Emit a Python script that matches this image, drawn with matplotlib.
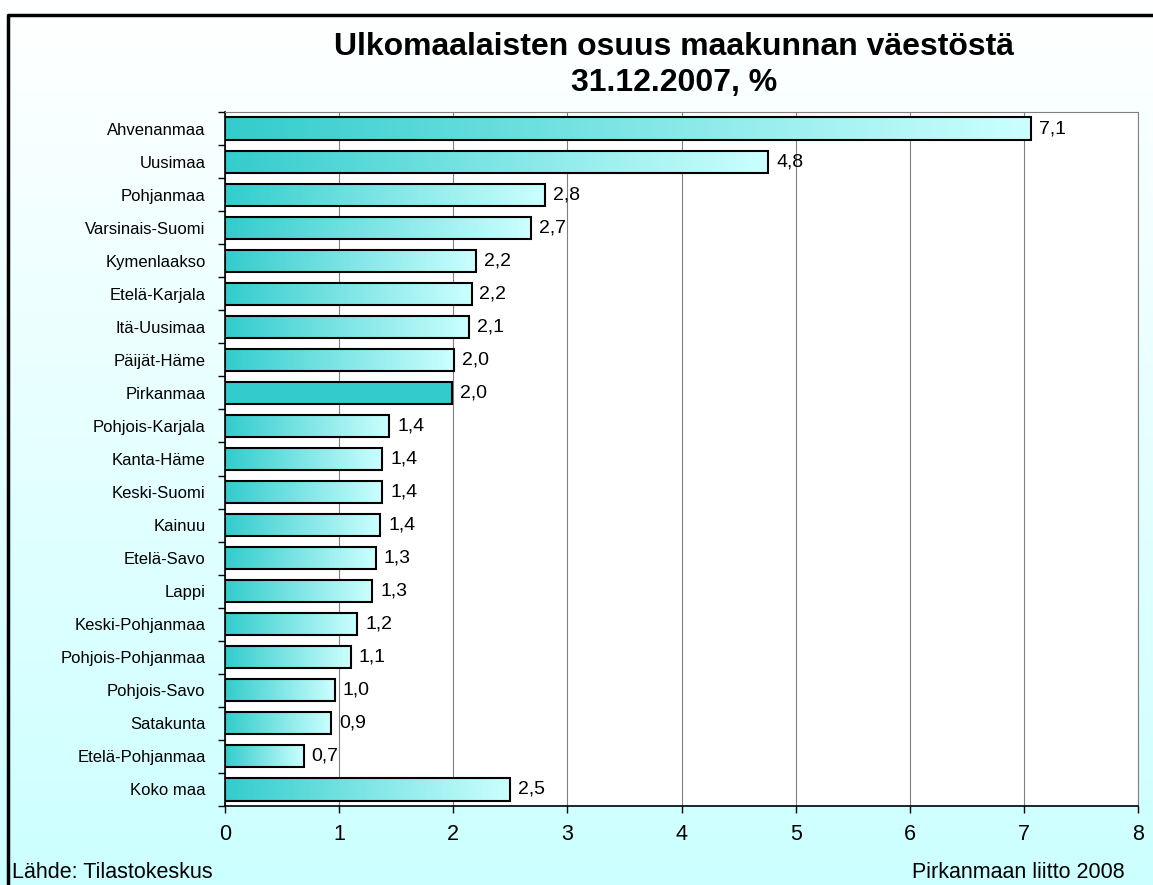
import numpy as np
import matplotlib
matplotlib.use('Agg')
import matplotlib.pyplot as plt
from matplotlib.colors import LinearSegmentedColormap

plt.rcParams['font.family'] = ['Liberation Sans', 'DejaVu Sans']

regions = ['Ahvenanmaa', 'Uusimaa', 'Pohjanmaa', 'Varsinais-Suomi', 'Kymenlaakso',
           'Etelä-Karjala', 'Itä-Uusimaa', 'Päijät-Häme', 'Pirkanmaa', 'Pohjois-Karjala',
           'Kanta-Häme', 'Keski-Suomi', 'Kainuu', 'Etelä-Savo', 'Lappi',
           'Keski-Pohjanmaa', 'Pohjois-Pohjanmaa', 'Pohjois-Savo', 'Satakunta',
           'Etelä-Pohjanmaa', 'Koko maa']
share = [7.06, 4.76, 2.80, 2.68, 2.20, 2.16, 2.14, 2.01, 1.99, 1.44,
         1.38, 1.38, 1.36, 1.32, 1.29, 1.16, 1.10, 0.96, 0.93, 0.69, 2.50]
highlight = 'Pirkanmaa'

teal = '#33cccc'
pale = '#ccffff'
grad = LinearSegmentedColormap.from_list('g', [teal, pale])

fig = plt.figure(figsize=(11.53, 8.85), dpi=100)

# background: white at top fading to pale cyan
bg = fig.add_axes([0, 0, 1, 1], zorder=-10)
bg.imshow(np.linspace(0, 1, 256).reshape(-1, 1), aspect='auto',
          cmap=LinearSegmentedColormap.from_list('bg', ['#ffffff', pale]),
          extent=(0, 1, 0, 1))
bg.set_xlim(0, 1)
bg.set_ylim(0, 1)
bg.axis('off')
# outer frame (cut at right and bottom)
bg.plot([8 / 1153, 8 / 1153, 1.0], [0, 1 - 15 / 885, 1 - 15 / 885], color='black', lw=2.5)

ax = fig.add_axes([225 / 1153, 1 - 806 / 885, 913 / 1153, 694 / 885])
ax.set_facecolor('white')
y = np.arange(len(regions))
h = 0.67

ax.barh(y, share, height=h, facecolor='none', edgecolor='black', lw=1.5, zorder=3)
row = np.linspace(0, 1, 256).reshape(1, -1)
for yi, v, name in zip(y, share, regions):
    if name == highlight:
        ax.barh(yi, v, height=h, color=teal, zorder=2)
    else:
        ax.imshow(row, cmap=grad, aspect='auto', extent=(0, v, yi + h / 2, yi - h / 2), zorder=2)
    ax.text(v + 0.07, yi, f'{v:.1f}'.replace('.', ','), va='center', ha='left', fontsize=14)

ax.set_xlim(0, 8)
ax.set_ylim(len(regions) - 0.5, -0.5)
ax.set_xticks(range(0, 9))
ax.tick_params(axis='x', labelsize=15.5, length=5, width=1, pad=8)
ax.xaxis.grid(True, color='#808080', lw=0.8)
ax.set_axisbelow(True)

ax.set_yticks(y)
ax.set_yticklabels(regions, fontsize=12)
ax.tick_params(axis='y', length=0, pad=14)
ax.set_yticks(np.arange(-0.5, len(regions)), minor=True)
ax.tick_params(axis='y', which='minor', length=5, width=1)

for side in ['top', 'right']:
    ax.spines[side].set_color('#808080')
for side in ['left', 'bottom']:
    ax.spines[side].set_color('black')
    ax.spines[side].set_linewidth(1.2)

fig.text(674 / 1153, 1 - 65 / 885, 'Ulkomaalaisten osuus maakunnan väestöstä\n31.12.2007, %',
         ha='center', va='center', fontsize=23, fontweight='bold', linespacing=1.3)
fig.text(12 / 1153, 1 - 872 / 885, 'Lähde: Tilastokeskus', ha='left', va='center', fontsize=15.5)
fig.text(912 / 1153, 1 - 872 / 885, 'Pirkanmaan liitto 2008', ha='left', va='center', fontsize=15.5)

fig.savefig('out.png', dpi=100)
